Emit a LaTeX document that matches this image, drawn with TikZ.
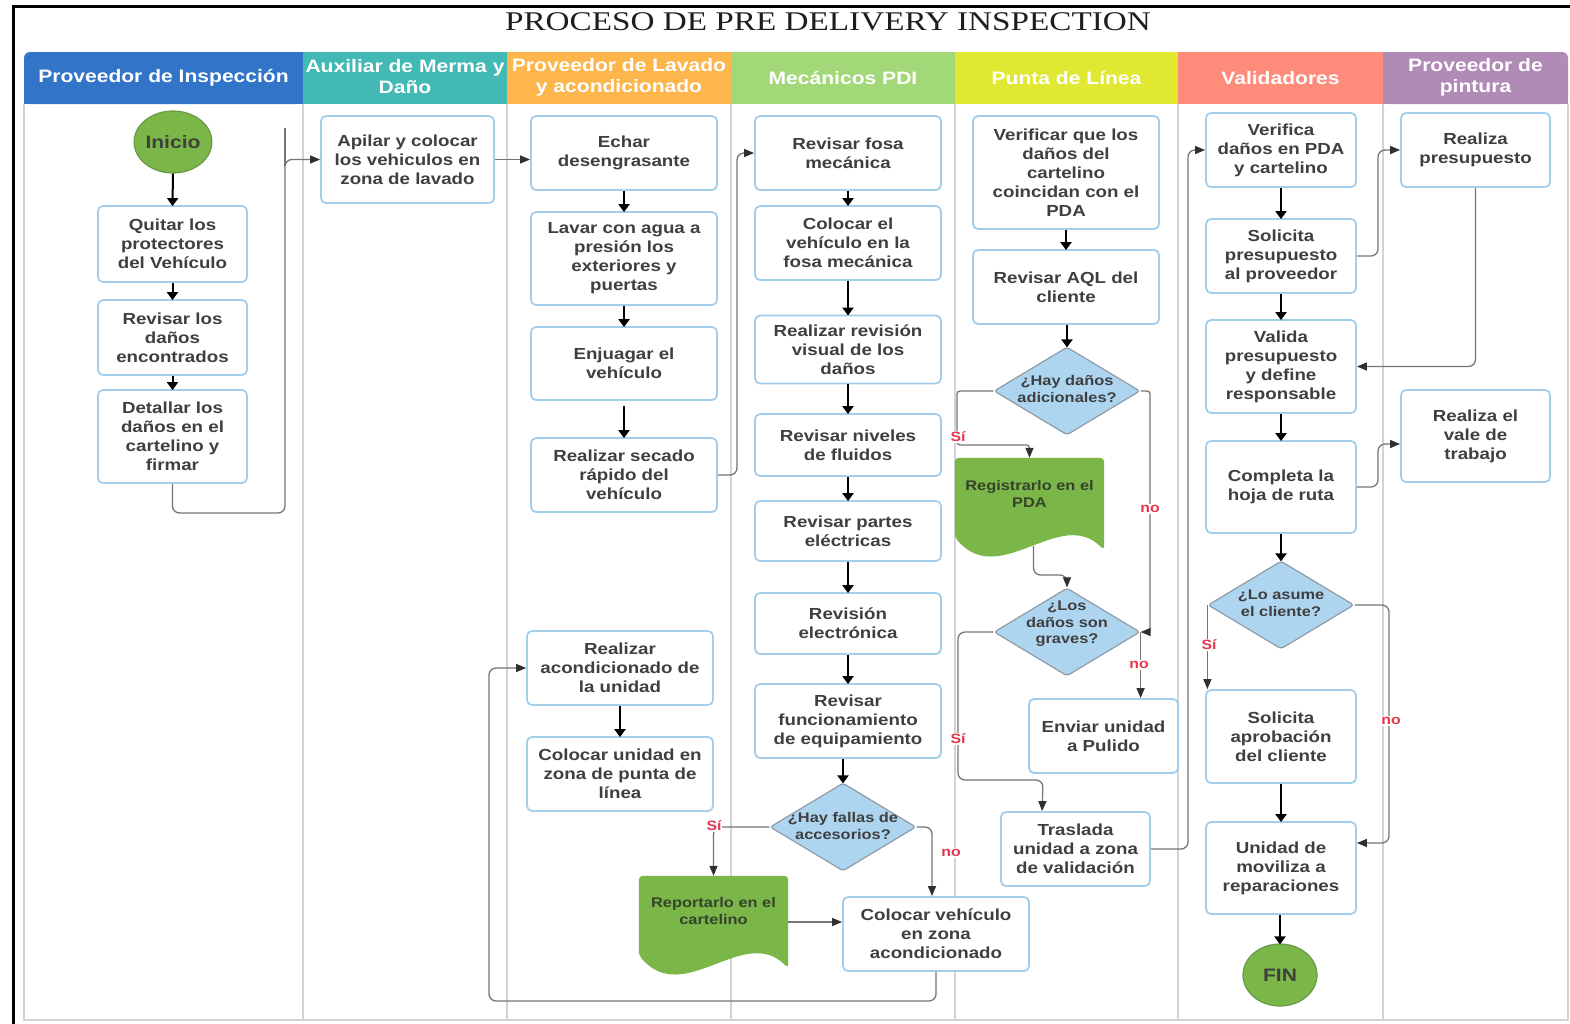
\documentclass[tikz,border=0pt]{standalone}
\usepackage{fontspec}
\setmainfont{Liberation Sans}[FakeStretch=1.17]
\newfontfamily\serifttl{Liberation Serif}[FakeStretch=1.23]
\usetikzlibrary{shapes.geometric,arrows.meta,calc}

\definecolor{hdrA}{HTML}{3174C8}
\definecolor{hdrB}{HTML}{42B9B4}
\definecolor{hdrC}{HTML}{FDB64B}
\definecolor{hdrD}{HTML}{A2D877}
\definecolor{hdrE}{HTML}{E1E831}
\definecolor{hdrF}{HTML}{FF8B7B}
\definecolor{hdrG}{HTML}{B08BB5}
\definecolor{boxline}{HTML}{A4CFEC}
\definecolor{txt}{HTML}{3F3F3F}
\definecolor{diafill}{HTML}{AED5F0}
\definecolor{diaedge}{HTML}{8F9BA6}
\definecolor{termfill}{HTML}{7AB648}
\definecolor{termedge}{HTML}{6B9A48}
\definecolor{docgreen}{HTML}{7AB648}
\definecolor{doctext}{HTML}{36422B}
\definecolor{linkcol}{HTML}{767676}
\definecolor{tipcol}{HTML}{303030}
\definecolor{lblred}{HTML}{E5364B}
\definecolor{lanecol}{HTML}{D3D3D3}
\definecolor{titlecol}{HTML}{1E1E1E}

\newcommand\fBody{\fontsize{16}{19}\selectfont\bfseries}
\newcommand\fDia{\fontsize{14}{16.5}\selectfont\bfseries}
\newcommand\fDoc{\fontsize{14}{17}\selectfont\bfseries}
\newcommand\fTerm{\fontsize{18}{21}\selectfont\bfseries}
\newcommand\fHdr{\fontsize{18}{21}\selectfont\bfseries}
\newcommand\fLbl{\fontsize{13.5}{15}\selectfont\bfseries}
\newcommand\fTtl{\serifttl\fontsize{27}{30}\selectfont}

% document symbol: flat top, wavy bottom
\newcommand\docshape[1]{%
  \fill[docgreen, rounded corners=4pt]
    ($(#1.south west)+(0,-13)$) -- (#1.north west) -- (#1.north east) -- (#1.south east)
    .. controls ($(#1.south east)+(-44,-45)$) and ($(#1.south west)+(45,40)$) ..
    ($(#1.south west)+(0,-13)$) -- cycle;}

\tikzset{
  box/.style={draw=boxline, line width=1.8pt, rounded corners=5pt, fill=white,
    text=txt, font=\fBody, align=center, inner sep=2pt},
  dia/.style={diamond, draw=diaedge, fill=diafill, line width=1.2pt, rounded corners=3pt,
    minimum width=146pt, minimum height=88pt, inner sep=0pt},
  diatxt/.style={text=txt, font=\fDia, align=center, inner sep=0pt},
  term/.style={ellipse, draw=termedge, fill=termfill, line width=1.2pt,
    minimum width=76pt, minimum height=62pt, text=txt, font=\fTerm, inner sep=0pt},
  docbox/.style={minimum width=149pt, minimum height=92pt, inner sep=0pt},
  doctxt/.style={text=doctext, font=\fDoc, align=center, inner sep=0pt},
  flow/.style={draw=black, line width=2pt, -{Triangle[length=8pt,width=11pt]},
    shorten <=0pt, shorten >=-1pt},
  link/.style={draw=linkcol, line width=1.3pt, rounded corners=7pt,
    -{Triangle[length=10pt,width=8pt,color=tipcol]}},
  shortlink/.style={link, rounded corners=3pt},
  plainlink/.style={draw=linkcol, line width=1.3pt},
  lbl/.style={text=lblred, font=\fLbl, fill=white, inner sep=1pt},
  lane/.style={draw=lanecol, line width=2pt},
  hdr/.style={text=white, font=\fHdr, align=center, inner sep=0pt},
}

\begin{document}
\begin{tikzpicture}[x=1pt, y=-1pt]
\useasboundingbox (0,0) rectangle (1570,1023);
\fill[white] (0,0) rectangle (1570,1023);

% outer frame
\draw[line width=3pt, line cap=rect] (13,1023) -- (13,6) -- (1570,6);

% title
\node[font=\fTtl, text=titlecol, inner sep=0pt] (title) at (828,22) {PROCESO DE PRE DELIVERY INSPECTION};

% swimlane headers
\fill[hdrA, rounded corners=6pt] (24,52) rectangle (303,104);
\fill[hdrA] (40,52) rectangle (303,104);
\fill[hdrA] (24,68) rectangle (303,104);
\fill[hdrB] (303,52) rectangle (507,104);
\fill[hdrC] (507,52) rectangle (731,104);
\fill[hdrD] (731,52) rectangle (955,104);
\fill[hdrE] (955,52) rectangle (1178,104);
\fill[hdrF] (1178,52) rectangle (1383,104);
\fill[hdrG, rounded corners=6pt] (1383,52) rectangle (1568,104);
\fill[hdrG] (1383,52) rectangle (1552,104);
\fill[hdrG] (1383,68) rectangle (1568,104);

\node[hdr] (h1) at (163.5,78) {Proveedor de Inspección};
\node[hdr] (h2) at (405,77) {Auxiliar de Merma y\\Daño};
\node[hdr] (h3) at (619,77) {Proveedor de Lavado\\y acondicionado};
\node[hdr] (h4) at (843,78) {Mecánicos PDI};
\node[hdr] (h5) at (1066.5,78) {Punta de Línea};
\node[hdr] (h6) at (1280.5,78) {Validadores};
\node[hdr] (h7) at (1475.5,77) {Proveedor de\\pintura};

% lane borders
\draw[lane] (24,104) -- (24,1020) -- (1568,1020) -- (1568,104);
\foreach \lx in {303,507,731,955,1178,1383}
  \draw[lane] (\lx,104) -- (\lx,1020);

% --- Proveedor de Inspección
\node[term] (ini) at (173,142) {Inicio};
\node[box, minimum width=149pt, minimum height=76pt] (q1) at (172.5,244) {Quitar los\\protectores\\del Vehículo};
\node[box, minimum width=149pt, minimum height=75pt] (q2) at (172.5,337.5) {Revisar los\\daños\\encontrados};
\node[box, minimum width=149pt, minimum height=93pt] (q3) at (172.5,436.5) {Detallar los\\daños en el\\cartelino y\\firmar};

% --- Auxiliar de Merma y Daño
\node[box, minimum width=173pt, minimum height=87pt] (a1) at (407.5,159.5) {Apilar y colocar\\los vehiculos en\\zona de lavado};

% --- Proveedor de Lavado y acondicionado
\node[box, minimum width=186pt, minimum height=74pt] (l1) at (624,153) {Echar\\desengrasante};
\node[box, minimum width=186pt, minimum height=93pt] (l2) at (624,258.5) {Lavar con agua a\\presión los\\exteriores y\\puertas};
\node[box, minimum width=186pt, minimum height=73pt] (l3) at (624,363.5) {Enjuagar el\\vehículo};
\node[box, minimum width=186pt, minimum height=74pt] (l4) at (624,475) {Realizar secado\\rápido del\\vehículo};
\node[box, minimum width=186pt, minimum height=74pt] (l5) at (620,668) {Realizar\\acondicionado de\\la unidad};
\node[box, minimum width=186pt, minimum height=74pt] (l6) at (620,774) {Colocar unidad en\\zona de punta de\\línea};
\node[docbox] (doc1) at (713.5,922) {};
\docshape{doc1}
\node[doctxt] (doc1t) at (713.5,911) {Reportarlo en el\\cartelino};

% --- Mecánicos PDI
\node[box, minimum width=186pt, minimum height=74pt] (m1) at (848,153) {Revisar fosa\\mecánica};
\node[box, minimum width=186pt, minimum height=74pt] (m2) at (848,243) {Colocar el\\vehículo en la\\fosa mecánica};
\node[box, minimum width=186pt, minimum height=68pt] (m3) at (848,349.5) {Realizar revisión\\visual de los\\daños};
\node[box, minimum width=186pt, minimum height=62pt] (m4) at (848,445) {Revisar niveles\\de fluidos};
\node[box, minimum width=186pt, minimum height=60pt] (m5) at (848,531) {Revisar partes\\eléctricas};
\node[box, minimum width=186pt, minimum height=61pt] (m6) at (848,623.5) {Revisión\\electrónica};
\node[box, minimum width=186pt, minimum height=74pt] (m7) at (848,721) {Revisar\\funcionamiento\\de equipamiento};
\node[dia] (d4) at (843,827) {};
\node[diatxt] (d4t) at (843,826) {¿Hay fallas de\\accesorios?};
\node[box, minimum width=186pt, minimum height=74pt] (m8) at (936,934) {Colocar vehículo\\en zona\\acondicionado};

% --- Punta de Línea
\node[box, minimum width=186pt, minimum height=113pt] (p1) at (1066,172.5) {Verificar que los\\daños del\\cartelino\\coincidan con el\\PDA};
\node[box, minimum width=186pt, minimum height=74pt] (p2) at (1066,287) {Revisar AQL del\\cliente};
\node[dia] (d1) at (1067,391) {};
\node[diatxt] (d1t) at (1067,389) {¿Hay daños\\adicionales?};
\node[docbox] (doc2) at (1029.5,504) {};
\docshape{doc2}
\node[doctxt] (doc2t) at (1029.5,494) {Registrarlo en el\\PDA};
\node[dia] (d2) at (1067,632) {};
\node[diatxt] (d2t) at (1067,624) {¿Los\\daños son\\graves?};
\node[box, minimum width=149pt, minimum height=74pt] (p3) at (1103.5,736) {Enviar unidad\\a Pulido};
\node[box, minimum width=149pt, minimum height=74pt] (p4) at (1075.5,849) {Traslada\\unidad a zona\\de validación};

% --- Validadores
\node[box, minimum width=150pt, minimum height=74pt] (v1) at (1281,150) {Verifica\\daños en PDA\\y cartelino};
\node[box, minimum width=150pt, minimum height=74pt] (v2) at (1281,256) {Solicita\\presupuesto\\al proveedor};
\node[box, minimum width=150pt, minimum height=93pt] (v3) at (1281,366.5) {Valida\\presupuesto\\y define\\responsable};
\node[box, minimum width=150pt, minimum height=92pt] (v4) at (1281,487) {Completa la\\hoja de ruta};
\node[dia] (d3) at (1281,605) {};
\node[diatxt] (d3t) at (1281,603) {¿Lo asume\\el cliente?};
\node[box, minimum width=150pt, minimum height=93pt] (v5) at (1281,736.5) {Solicita\\aprobación\\del cliente};
\node[box, minimum width=150pt, minimum height=92pt] (v6) at (1281,868) {Unidad de\\moviliza a\\reparaciones};
\node[term, minimum width=74pt] (fin) at (1280,975) {FIN};

% --- Proveedor de pintura
\node[box, minimum width=149pt, minimum height=74pt] (r1) at (1475.5,150) {Realiza\\presupuesto};
\node[box, minimum width=149pt, minimum height=92pt] (r2) at (1475.5,436) {Realiza el\\vale de\\trabajo};

% straight sequence arrows
\draw[flow] (ini.south) -- (q1.north);
\draw[flow] (q1.south) -- (q2.north);
\draw[flow] (q2.south) -- (q3.north);
\draw[flow] (l1.south) -- (l2.north);
\draw[flow] (l2.south) -- (l3.north);
\draw[flow] ($(l3.south)+(0,5)$) -- (l4.north);
\draw[flow] (l5.south) -- (l6.north);
\draw[flow] (m1.south) -- (m2.north);
\draw[flow] (m2.south) -- (m3.north);
\draw[flow] (m3.south) -- (m4.north);
\draw[flow] (m4.south) -- (m5.north);
\draw[flow] (m5.south) -- (m6.north);
\draw[flow] (m6.south) -- (m7.north);
\draw[flow] (m7.south -| d4.north) -- (d4.north);
\draw[flow] (p1.south) -- (p2.north);
\draw[flow] (p2.south -| d1.north) -- (d1.north);
\draw[flow] (v1.south) -- (v2.north);
\draw[flow] (v2.south) -- (v3.north);
\draw[flow] (v3.south) -- (v4.north);
\draw[flow] (v4.south) -- (d3.north);
\draw[flow] (v5.south) -- (v6.north);
\draw[flow] (v6.south -| fin.north) -- (fin.north);

% routed connectors
\draw[link] (q3.south) -- (172.5,513) -- (285,513) -- (285,159.5) -- (a1.west);
\draw[plainlink] (285,166) -- (285,128);
\draw[link] (a1.east) -- (a1.east -| l1.west);
\draw[link] (l4.east) -- (737,475) -- (737,153) -- (m1.west);
\draw[link] (d4.west) -| (doc1.north);
\draw[link] (d4.east) -| ($(m8.north)+(-4,0)$);
\draw[link] (doc1.east) -- (doc1.east -| m8.west);
\draw[link] (m8.south) -- (936,1001) -- (489,1001) -- (489,668) -- (l5.west);
\draw[shortlink] (d1.west) -- (957,391) -- (957,445) -- (1029.5,445) -- (doc2.north);
\draw[link] ($(doc2.south)+(4,-4)$) -- (1033.5,575) -- (1067,575) -- (d2.north);
\draw[shortlink] (d1.east) -- (1150,391) -- (1150,632) -- (d2.east);
\draw[link] (d2.east) -- (d2.east |- p3.north);
\draw[link] (d2.west) -- (958,632) -- (958,780) -- (1043,780) -- ($(p4.north west)+(42,0)$);
\draw[link] (p4.east) -- (1188,849) -- (1188,150) -- (v1.west);
\draw[link] (v2.east) -- (1378,256) -- (1378,150) -- (r1.west);
\draw[link] (r1.south) |- (v3.east);
\draw[link] (v4.east) -- (1378,487) -- (1378,444) -- ($(r2.west)+(0,8)$);
\draw[link] (d3.west) -- (d3.west |- v5.north);
\draw[link] (d3.east) -- (1389,605) -- (1389,843) -- ($(v6.east)+(0,-25)$);

% decision labels
\node[lbl] (s4) at (714,826) {Sí};
\node[lbl] (n4) at (951,853) {no};
\node[lbl] (s1) at (958,437) {Sí};
\node[lbl] (n1) at (1150,509) {no};
\node[lbl] (n2) at (1139,665) {no};
\node[lbl] (s2) at (958,739) {Sí};
\node[lbl] (s3) at (1209,645) {Sí};
\node[lbl] (n3) at (1391,721) {no};
\end{tikzpicture}
\end{document}
